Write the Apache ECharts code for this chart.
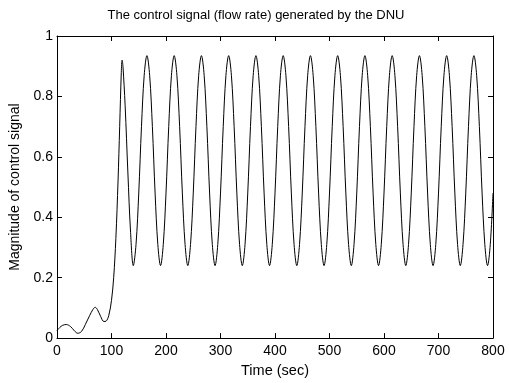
<!DOCTYPE html>
<html>
<head>
<meta charset="utf-8">
<script src="https://cdn.jsdelivr.net/npm/echarts@6/dist/echarts.min.js"></script>
<style>html,body{margin:0;padding:0;background:#fff;}#c{width:509px;height:383px;}</style>
</head>
<body>
<div id="c"></div>
<script>
// Time stamps (sec)
const time = [
  0, 5, 10, 17, 25, 32, 38, 45, 52, 60, 66, 70, 74, 80, 86, 90, 95, 100, 104, 108, 112, 115, 118, 119.5, 121, 125, 130, 135,
  140, 145, 150, 155, 160, 165, 170, 175, 180, 185,
  190, 195, 200, 205, 210, 215, 220, 225, 230, 235,
  240, 245, 250, 255, 260, 265, 270, 275, 280, 285,
  290, 295, 300, 305, 310, 315, 320, 325, 330, 335,
  340, 345, 350, 355, 360, 365, 370, 375, 380, 385,
  390, 395, 400, 405, 410, 415, 420, 425, 430, 435,
  440, 445, 450, 455, 460, 465, 470, 475, 480, 485,
  490, 495, 500, 505, 510, 515, 520, 525, 530, 535,
  540, 545, 550, 555, 560, 565, 570, 575, 580, 585,
  590, 595, 600, 605, 610, 615, 620, 625, 630, 635,
  640, 645, 650, 655, 660, 665, 670, 675, 680, 685,
  690, 695, 700, 705, 710, 715, 720, 725, 730, 735,
  740, 745, 750, 755, 760, 765, 770, 775, 780, 785,
  790, 795, 800
];
// Control signal magnitude
const signal = [
  0.025, 0.035, 0.042, 0.045, 0.038, 0.024, 0.016, 0.022, 0.045, 0.075, 0.095, 0.102, 0.095, 0.072, 0.055, 0.056, 0.075, 0.125, 0.2, 0.33, 0.52, 0.7, 0.88, 0.92, 0.9, 0.77, 0.55, 0.35,
  0.24, 0.31, 0.48, 0.70, 0.87, 0.935, 0.87, 0.70, 0.48, 0.31,
  0.24, 0.31, 0.48, 0.70, 0.87, 0.935, 0.87, 0.70, 0.48, 0.31,
  0.24, 0.31, 0.48, 0.70, 0.87, 0.935, 0.87, 0.70, 0.48, 0.31,
  0.24, 0.31, 0.48, 0.70, 0.87, 0.935, 0.87, 0.70, 0.48, 0.31,
  0.24, 0.31, 0.48, 0.70, 0.87, 0.935, 0.87, 0.70, 0.48, 0.31,
  0.24, 0.31, 0.48, 0.70, 0.87, 0.935, 0.87, 0.70, 0.48, 0.31,
  0.24, 0.31, 0.48, 0.70, 0.87, 0.935, 0.87, 0.70, 0.48, 0.31,
  0.24, 0.31, 0.48, 0.70, 0.87, 0.935, 0.87, 0.70, 0.48, 0.31,
  0.24, 0.31, 0.48, 0.70, 0.87, 0.935, 0.87, 0.70, 0.48, 0.31,
  0.24, 0.31, 0.48, 0.70, 0.87, 0.935, 0.87, 0.70, 0.48, 0.31,
  0.24, 0.31, 0.48, 0.70, 0.87, 0.935, 0.87, 0.70, 0.48, 0.31,
  0.24, 0.31, 0.48, 0.70, 0.87, 0.935, 0.87, 0.70, 0.48, 0.31,
  0.24, 0.31, 0.48, 0.70, 0.87, 0.935, 0.87, 0.70, 0.48, 0.31,
  0.24, 0.31, 0.48
];
const xTicks = [0, 100, 200, 300, 400, 500, 600, 700, 800];
const yTicks = [0, 0.2, 0.4, 0.6, 0.8, 1];
const titleText = 'The control signal (flow rate) generated by the DNU';
const xName = 'Time (sec)';
const yName = 'Magnitude of control signal';

const FONT = 'Liberation Sans, Arial, sans-serif';
const chart = echarts.init(document.getElementById('c'), null, {renderer: 'canvas'});
const pts = time.map((t, i) => [t, signal[i]]);
const axisCommon = {
  axisLine: {show: true, onZero: false, lineStyle: {color: '#000', width: 1}},
  axisTick: {show: true, inside: true, length: 5, lineStyle: {color: '#000'}},
  splitLine: {show: false},
};
chart.setOption({
  animation: false,
  backgroundColor: '#fff',
  title: {
    text: titleText, left: 251, top: 4, textAlign: 'center',
    textStyle: {fontFamily: FONT, fontSize: 13, fontWeight: 'normal', color: '#000'}
  },
  grid: {left: 57, right: 16, top: 36, bottom: 44},
  xAxis: [
    Object.assign({type: 'value', min: 0, max: 800, interval: 100, position: 'bottom',
      name: xName, nameLocation: 'middle', nameGap: 24,
      nameTextStyle: {fontFamily: FONT, fontSize: 14.5, color: '#000'},
      axisLabel: {fontFamily: FONT, fontSize: 14, color: '#000', margin: 6,
        customValues: xTicks}}, axisCommon),
    Object.assign({type: 'value', min: 0, max: 800, interval: 100, position: 'top',
      axisLabel: {show: false}}, axisCommon)
  ],
  yAxis: [
    Object.assign({type: 'value', min: 0, max: 1, interval: 0.2, position: 'left',
      name: yName, nameLocation: 'middle', nameGap: 29,
      nameTextStyle: {fontFamily: FONT, fontSize: 14, color: '#000'},
      axisLabel: {fontFamily: FONT, fontSize: 14, color: '#000', margin: 4,
        formatter: v => String(+v.toFixed(1))}}, axisCommon),
    Object.assign({type: 'value', min: 0, max: 1, interval: 0.2, position: 'right',
      axisLabel: {show: false}}, axisCommon)
  ],
  series: [{
    type: 'line', data: pts, xAxisIndex: 0, yAxisIndex: 0,
    smooth: 0.35, showSymbol: false,
    lineStyle: {color: '#000', width: 1}
  }]
});
</script>
</body>
</html>
